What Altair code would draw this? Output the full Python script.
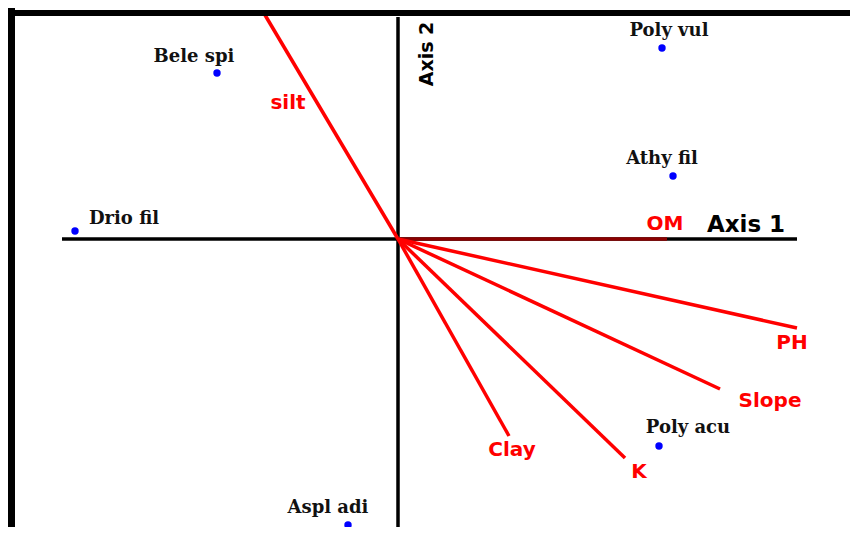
import altair as alt
import pandas as pd

# ---- species scores (blue points) ----
species = ["Bele spi", "Drio fil", "Poly vul", "Athy fil", "Poly acu", "Aspl adi"]
species_x = [-1.81, -3.23, 2.64, 2.75, 2.61, -0.50]
species_y = [1.66, 0.08, 1.91, 0.63, -2.07, -2.86]
species_label_x = [-2.04, -2.74, 2.71, 2.64, 2.90, -0.70]
species_label_y = [1.82, 0.20, 2.08, 0.80, -1.89, -2.69]

# ---- environmental variable arrows (red) ----
variables = ["silt", "OM", "PH", "Slope", "K", "Clay"]
var_x = [-1.33, 2.69, 3.99, 3.22, 2.27, 1.11]
var_y = [2.24, 0.00, -0.89, -1.50, -2.19, -1.97]
var_label_x = [-1.10, 2.67, 3.94, 3.72, 2.41, 1.14]
var_label_y = [1.36, 0.15, -1.04, -1.62, -2.33, -2.11]

# ---- ordination axes ----
axis_names = ["Axis 1", "Axis 2"]
axis_from_x = [-3.36, 0.0]
axis_to_x = [3.99, 0.0]
axis_from_y = [0.0, 2.22]
axis_to_y = [0.0, -2.96]
axis_label_x = [3.48, 0.29]
axis_label_y = [0.14, 1.85]

X_DOMAIN = [-3.90, 4.52]
Y_DOMAIN = [-2.88, 2.31]
W, H = 842, 519

sp = pd.DataFrame({"name": species, "x": species_x, "y": species_y,
                   "lx": species_label_x, "ly": species_label_y})
vr = pd.DataFrame({"name": variables, "x": var_x, "y": var_y,
                   "x0": [0.0] * len(variables), "y0": [0.0] * len(variables),
                   "lx": var_label_x, "ly": var_label_y})
ax = pd.DataFrame({"name": axis_names, "x": axis_from_x, "x2": axis_to_x,
                   "y": axis_from_y, "y2": axis_to_y,
                   "lx": axis_label_x, "ly": axis_label_y})
one = pd.DataFrame({"a": [0]})

xs = alt.Scale(domain=X_DOMAIN, nice=False, zero=False)
ys = alt.Scale(domain=Y_DOMAIN, nice=False, zero=False)


def X(f):
    return alt.X(f, type="quantitative", scale=xs, axis=None)


def Y(f):
    return alt.Y(f, type="quantitative", scale=ys, axis=None)


frame_left = alt.Chart(one).mark_rule(color="black", strokeWidth=8).encode(
    x=alt.value(3), y=alt.value(0), y2=alt.value(H))
frame_top = alt.Chart(one).mark_rule(color="black", strokeWidth=6).encode(
    y=alt.value(5), x=alt.value(0), x2=alt.value(W))

axis_lines = alt.Chart(ax).mark_rule(color="black", strokeWidth=3.5).encode(
    x=X("x"), x2="x2", y=Y("y"), y2="y2")

arrows = alt.Chart(vr).mark_rule(strokeWidth=3.5).encode(
    x=X("x0"), x2="x", y=Y("y0"), y2="y",
    color=alt.condition(alt.datum.name == "OM", alt.value("#8b0000"), alt.value("#ff0000")))

arrow_labels = alt.Chart(vr).mark_text(
    font="DejaVu Sans", fontWeight="bold", fontSize=20, color="#ff0000",
    align="center", baseline="middle").encode(
    x=X("lx"), y=Y("ly"), text="name")

points = alt.Chart(sp).mark_circle(size=55, color="#0000ff", opacity=1).encode(
    x=X("x"), y=Y("y"))

point_labels = alt.Chart(sp).mark_text(
    font="DejaVu Serif", fontWeight="bold", fontSize=18, color="#111111",
    align="center", baseline="middle").encode(
    x=X("lx"), y=Y("ly"), text="name")

axis1_label = alt.Chart(ax[ax["name"] == "Axis 1"]).mark_text(
    font="DejaVu Sans", fontWeight="bold", fontSize=23, color="black",
    align="center", baseline="middle").encode(
    x=X("lx"), y=Y("ly"), text="name")

axis2_label = alt.Chart(ax[ax["name"] == "Axis 2"]).mark_text(
    font="DejaVu Sans", fontWeight="bold", fontSize=19, color="black",
    align="center", baseline="middle", angle=270).encode(
    x=X("lx"), y=Y("ly"), text="name")

chart = alt.layer(
    axis_lines, arrows, frame_left, frame_top, points,
    point_labels, arrow_labels, axis1_label, axis2_label
).properties(
    width=W, height=H, padding=0,
    autosize=alt.AutoSizeParams(type="none"),
    background="white"
).configure_view(stroke=None)

chart.save("out.html", embed_options={"renderer": "svg", "actions": False})
